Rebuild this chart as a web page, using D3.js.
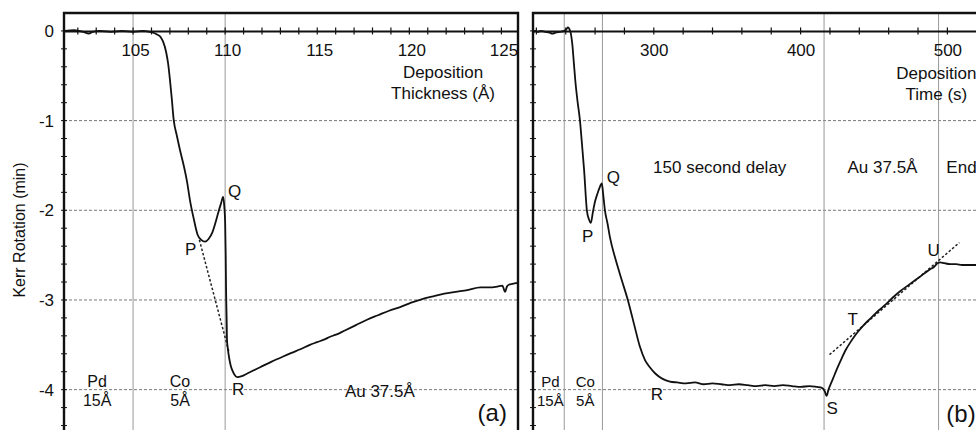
<!DOCTYPE html>
<html>
<head>
<meta charset="utf-8">
<script src="https://cdn.jsdelivr.net/npm/d3@7"></script>
<style>
  body { margin: 0; background: #fff; }
  text { font-family: "Liberation Sans", Arial, sans-serif; fill: #111; }
</style>
</head>
<body>
<div id="container"></div>
<script>
// panel (a): Kerr rotation vs deposition thickness
const thickA = [101.3, 101.8, 102.3, 102.6, 102.8, 103.2, 103.8, 104.4, 105.0, 105.5, 105.9, 106.1, 106.3, 106.5,
  106.63, 106.8, 106.9, 107.0, 107.1, 107.2, 107.39, 107.55, 107.75, 107.93, 108.1, 108.3, 108.5, 108.7, 108.91,
  109.1, 109.3, 109.5, 109.62, 109.78, 109.89, 109.95, 110.0, 110.03, 110.05, 110.08, 110.1, 110.15, 110.22, 110.3,
  110.38, 110.5, 110.65, 110.9, 111.2, 111.5, 111.9, 112.5, 113.15, 113.6, 114.08, 114.6, 115.0, 115.4, 115.7,
  115.98, 116.5, 117.1, 117.7, 118.3, 118.9, 119.5, 120.1, 120.7, 121.3, 121.9, 122.5, 123.15, 123.86, 124.3,
  124.78, 125.05, 125.2, 125.3, 125.4, 125.6, 125.87];
const kerrA = [0.0, 0.01, -0.01, -0.03, -0.01, 0.0, -0.01, 0.0, -0.01, 0.0, -0.01, -0.02, -0.04, -0.07,
  -0.12, -0.24, -0.36, -0.54, -0.75, -0.98, -1.18, -1.33, -1.5, -1.68, -1.9, -2.1, -2.27, -2.33, -2.35,
  -2.32, -2.25, -2.12, -2.03, -1.92, -1.85, -1.95, -2.14, -2.5, -2.89, -3.2, -3.44, -3.55, -3.65, -3.73,
  -3.78, -3.83, -3.86, -3.85, -3.82, -3.79, -3.75, -3.69, -3.63, -3.59, -3.55, -3.5, -3.47, -3.44, -3.41,
  -3.39, -3.34, -3.28, -3.22, -3.17, -3.12, -3.08, -3.03, -2.99, -2.96, -2.93, -2.91, -2.89, -2.86, -2.86,
  -2.85, -2.84, -2.91, -2.85, -2.83, -2.82, -2.81];
const fitThickA = [108.6, 110.22];
const fitKerrA = [-2.33, -3.59];

// panel (b): Kerr rotation vs deposition time
const timeB = [217.7, 219, 221, 223, 226, 229, 231, 233, 236, 239, 240.5, 241.5, 242.5, 243.5, 244.5, 245.5,
  246.5, 248, 249.7, 251, 252.5, 254.4, 255.8, 257.1, 258.5, 260, 261.5, 263, 264.6, 265.5, 266.7, 268.5, 270.1,
  274, 278.2, 282.3, 287, 290.5, 294, 297.3, 301, 306, 311, 316, 322, 328, 334, 340, 346, 352, 358, 364, 370,
  376, 382, 388, 394, 400, 406, 411, 414.5, 416.5, 417.7, 419, 422, 425, 428, 431, 434, 436.5, 438.8, 443, 448,
  453, 458, 463, 468, 473, 478, 483, 488, 491, 493.3, 495, 498, 502, 506, 510, 514, 519.5];
const kerrB = [-0.03, 0.0, -0.01, 0.0, -0.01, -0.02, -0.03, -0.02, -0.01, 0.0, 0.02, 0.04, 0.02, -0.03, -0.15,
  -0.35, -0.55, -0.78, -1.0, -1.25, -1.55, -2.0, -2.1, -2.14, -2.02, -1.9, -1.82, -1.75, -1.7, -1.82, -2.0,
  -2.15, -2.3, -2.55, -2.78, -3.0, -3.3, -3.52, -3.67, -3.75, -3.82, -3.88, -3.91, -3.92, -3.93, -3.92, -3.94,
  -3.93, -3.94, -3.95, -3.94, -3.95, -3.96, -3.95, -3.96, -3.95, -3.96, -3.97, -3.96, -3.97, -3.98, -4.02,
  -4.07, -4.0, -3.88, -3.76, -3.65, -3.55, -3.47, -3.41, -3.36, -3.28, -3.2, -3.12, -3.05, -2.97, -2.9,
  -2.84, -2.78, -2.72, -2.66, -2.63, -2.59, -2.58, -2.59, -2.6, -2.6, -2.61, -2.61, -2.61];
const fitTimeB = [419.7, 508.2];
const fitKerrB = [-3.61, -2.36];

// ticks, layer boundaries, annotations
const kerrTicks = [0, -1, -2, -3, -4];
const thickTicks = [105, 110, 115, 120, 125];
const timeTicks = [300, 400, 500];
const layerLinesA = [105, 110];
const layerLinesB = [239, 265, 416, 494];
const pointLabelsA = [["P", 107.82, -2.5], ["Q", 110.16, -1.85], ["R", 110.37, -4.06]];
const pointLabelsB = [["P", 251, -2.35], ["Q", 268, -1.7], ["R", 298, -4.12], ["S", 417.7, -4.27],
  ["T", 432, -3.28], ["U", 486.4, -2.51]];
const layerLabelsA = [["Pd", "15Å", 103.05], ["Co", "5Å", 107.55]];
const layerLabelsB = [["Pd", "15Å", 229.5], ["Co", "5Å", 253.3]];

const width = 976;
const height = 430;

const svg = d3.select("#container").append("svg")
  .attr("width", width)
  .attr("height", height);

const y = d3.scaleLinear().domain([0.2, -4.45]).range([13, 430]);
const xA = d3.scaleLinear().domain([101.25, 125.9]).range([64, 518]);
const xB = d3.scaleLinear().domain([217.7, 519.5]).range([533, 976]);

function drawPanel(x, opt) {
  const [x0, x1] = x.range();
  const g = svg.append("g");

  // dashed horizontal grid
  g.selectAll(".hgrid").data(kerrTicks.filter(d => d !== 0)).join("line")
    .attr("x1", x0).attr("x2", x1)
    .attr("y1", d => y(d)).attr("y2", d => y(d))
    .attr("stroke", "#777").attr("stroke-width", 1).attr("stroke-dasharray", "3,2");

  // layer boundary lines
  g.selectAll(".vgrid").data(opt.layers).join("line")
    .attr("x1", d => x(d)).attr("x2", d => x(d))
    .attr("y1", y(0.2)).attr("y2", height)
    .attr("stroke", "#999").attr("stroke-width", 1);

  // frame
  const frame = opt.rightBorder
    ? `M${x0},${height}V${y(0.2)}H${x1}V${height}`
    : `M${x0},${height}V${y(0.2)}H${x1}`;
  g.append("path").attr("d", frame)
    .attr("fill", "none").attr("stroke", "#111").attr("stroke-width", 2.4);

  // zero line with tick labels
  const xAxis = d3.axisBottom(x).tickValues(opt.ticks).tickSize(0).tickPadding(13);
  g.append("g")
    .attr("transform", `translate(0,${y(0)})`)
    .call(xAxis)
    .call(a => a.select(".domain").attr("stroke", "#111").attr("stroke-width", 2))
    .call(a => a.selectAll("text").attr("font-size", 17).attr("fill", "#111")
      .attr("dx", opt.labelShift).style("font-family", "Liberation Sans, Arial, sans-serif"));

  // minor x ticks crossing the zero line
  g.selectAll(".xminor").data(opt.minor).join("line")
    .attr("x1", d => x(d)).attr("x2", d => x(d))
    .attr("y1", y(0) - 3.5).attr("y2", y(0) + 3.5)
    .attr("stroke", "#111").attr("stroke-width", 1.2);

  // minor y ticks crossing the left border
  g.selectAll(".yminor").data(d3.range(0, 23).map(i => -i * 0.2)).join("line")
    .attr("x1", x0 - 3).attr("x2", x0 + 3)
    .attr("y1", d => y(d)).attr("y2", d => y(d))
    .attr("stroke", "#111").attr("stroke-width", 1);

  const fitLine = d3.line().x(d => x(d[0])).y(d => y(d[1]));
  const curve = d3.line().x(d => x(d[0])).y(d => y(d[1])).curve(d3.curveMonotoneX);

  g.append("path")
    .datum(d3.zip(opt.fitX, opt.fitY))
    .attr("d", fitLine)
    .attr("fill", "none").attr("stroke", "#222").attr("stroke-width", 1.5)
    .attr("stroke-dasharray", "2.5,2");

  g.append("path")
    .datum(d3.zip(opt.xs, opt.ys))
    .attr("d", curve)
    .attr("fill", "none").attr("stroke", "#111").attr("stroke-width", 1.8)
    .attr("stroke-linejoin", "round");

  g.selectAll(".pl").data(opt.points).join("text")
    .attr("x", d => x(d[1])).attr("y", d => y(d[2]))
    .attr("font-size", 17)
    .text(d => d[0]);

  opt.layerLabels.forEach(d => {
    g.append("text").attr("x", x(d[2])).attr("y", 387)
      .attr("text-anchor", "middle").attr("font-size", opt.layerFont).text(d[0]);
    g.append("text").attr("x", x(d[2])).attr("y", 406)
      .attr("text-anchor", "middle").attr("font-size", opt.layerFont).text(d[1]);
  });

  return g;
}

const gA = drawPanel(xA, {
  layers: layerLinesA, ticks: thickTicks, minor: d3.range(102, 126, 1), labelShift: 2,
  rightBorder: true, xs: thickA, ys: kerrA, fitX: fitThickA, fitY: fitKerrA,
  points: pointLabelsA, layerLabels: layerLabelsA, layerFont: 16
});

const gB = drawPanel(xB, {
  layers: layerLinesB, ticks: timeTicks, minor: d3.range(220, 520, 20), labelShift: 0,
  rightBorder: false, xs: timeB, ys: kerrB, fitX: fitTimeB, fitY: fitKerrB,
  points: pointLabelsB, layerLabels: layerLabelsB, layerFont: 15
});

// y axis labels on panel (a)
svg.append("g")
  .attr("transform", `translate(${xA(101.25)},0)`)
  .call(d3.axisLeft(y).tickValues(kerrTicks).tickFormat(d => String(d)).tickSize(0).tickPadding(10))
  .call(a => a.select(".domain").remove())
  .call(a => a.selectAll("text").attr("font-size", 17).attr("fill", "#111")
    .style("font-family", "Liberation Sans, Arial, sans-serif"));

svg.append("text")
  .attr("transform", "translate(25,230) rotate(-90)")
  .attr("text-anchor", "middle")
  .attr("font-size", 16)
  .text("Kerr Rotation (min)");

// axis titles and annotations
gA.append("text").attr("x", xA(121.83)).attr("y", 78).attr("text-anchor", "middle")
  .attr("font-size", 17).text("Deposition");
gA.append("text").attr("x", xA(121.83)).attr("y", 99).attr("text-anchor", "middle")
  .attr("font-size", 17).text("Thickness (Å)");
gA.append("text").attr("x", xA(118.4)).attr("y", 397).attr("text-anchor", "middle")
  .attr("font-size", 17).text("Au 37.5Å");
gA.append("text").attr("x", xA(125.3)).attr("y", 421).attr("text-anchor", "end")
  .attr("font-size", 24).text("(a)");

gB.append("text").attr("x", xB(492.5)).attr("y", 79).attr("text-anchor", "middle")
  .attr("font-size", 17).text("Deposition");
gB.append("text").attr("x", xB(492.5)).attr("y", 100).attr("text-anchor", "middle")
  .attr("font-size", 17).text("Time (s)");
gB.append("text").attr("x", xB(344.9)).attr("y", 173).attr("text-anchor", "middle")
  .attr("font-size", 17).text("150 second delay");
gB.append("text").attr("x", xB(455.8)).attr("y", 173).attr("text-anchor", "middle")
  .attr("font-size", 17).text("Au 37.5Å");
gB.append("text").attr("x", xB(499.3)).attr("y", 173)
  .attr("font-size", 17).text("End");
gB.append("text").attr("x", xB(499.3)).attr("y", 422)
  .attr("font-size", 24).text("(b)");
</script>
</body>
</html>
